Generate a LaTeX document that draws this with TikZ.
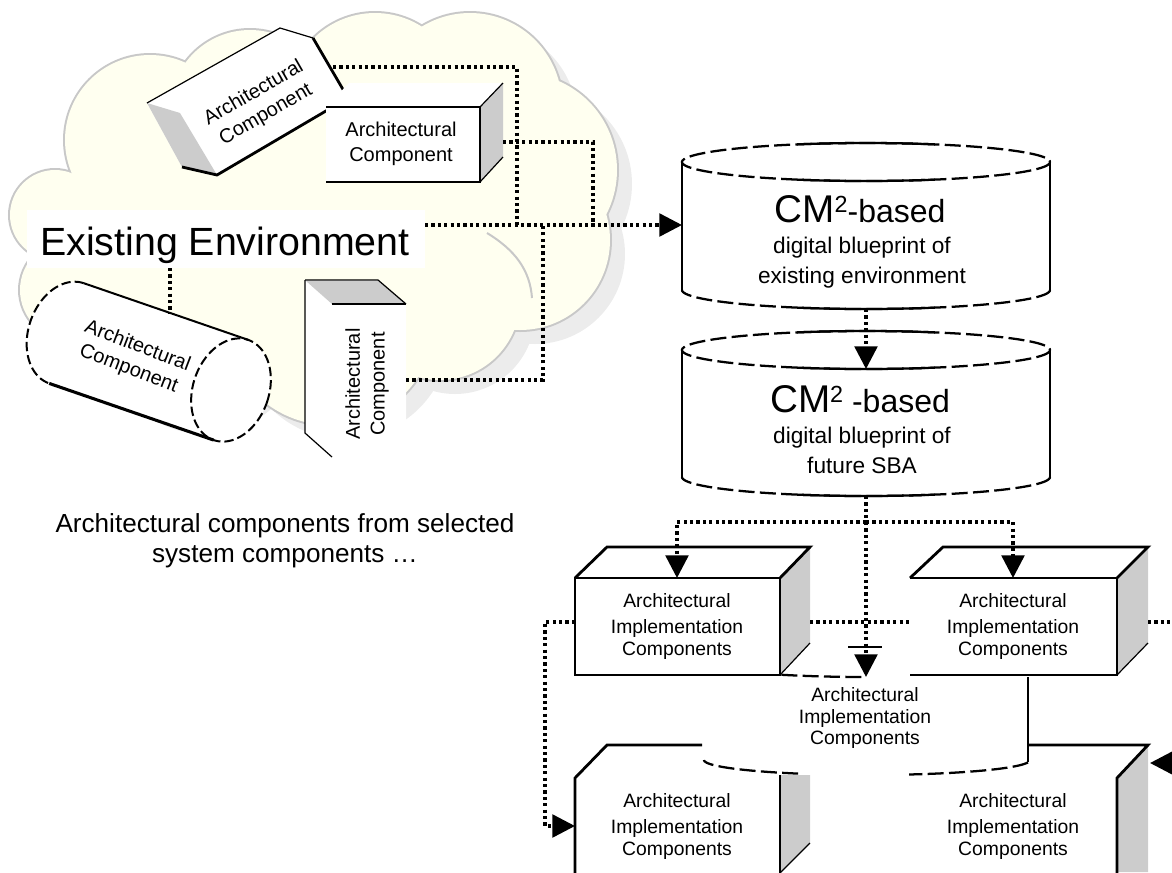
\documentclass[tikz,border=0pt]{standalone}
\usepackage{fontspec}
\setmainfont{Liberation Sans}
\usetikzlibrary{arrows.meta}

\definecolor{cloudfill}{RGB}{255,255,240}
\definecolor{cloudline}{RGB}{200,200,200}
\definecolor{cloudshade}{RGB}{236,236,236}
\definecolor{facegray}{RGB}{204,204,204}

\tikzset{
  conn/.style={line width=2.6pt, dash pattern=on 2.4pt off 2.4pt},
  tip/.style={-{Triangle[length=17pt,width=17pt]}},
  heavy/.style={line width=2.1pt},
  light/.style={line width=0.9pt},
  cyldash/.style={line width=1.7pt, dash pattern=on 12pt off 4pt},
  comptxt/.style={font=\fontsize{15}{18.5}\selectfont, align=center, inner sep=0pt},
  impltxt/.style={font=\fontsize{14.5}{16}\selectfont, align=center, inner sep=0pt},
  subtxt/.style={font=\fontsize{17}{20}\selectfont, anchor=base, inner sep=0pt},
  captxt/.style={font=\fontsize{19.6}{23}\selectfont, anchor=base, inner sep=0pt},
}

% drum-shaped store: #1 top centre y, #2 bottom centre y
\newcommand\drum[2]{%
  \fill[white] (682,#1) rectangle (1050,#2);
  \fill[white] plot[domain=0:360,samples=90] ({866+184*cos(\x)},{#1+19*sin(\x)}) -- cycle;
  \fill[white] plot[domain=0:180,samples=45] ({866+184*cos(\x)},{#2+19*sin(\x)}) -- cycle;
  \draw[cyldash] plot[domain=0:360,samples=120] ({866+184*cos(\x)},{#1+19*sin(\x)});
  \draw[cyldash] plot[domain=0:180,samples=60] ({866+184*cos(\x)},{#2+19*sin(\x)});
  \draw[line width=1.7pt] plot[domain=248:292,samples=20] ({866+184*cos(\x)},{#1+19*sin(\x)});
  \draw[line width=1.7pt] plot[domain=68:112,samples=20] ({866+184*cos(\x)},{#1+19*sin(\x)});
  \draw[line width=1.7pt] plot[domain=68:112,samples=20] ({866+184*cos(\x)},{#2+19*sin(\x)});
  \draw[line width=2pt] (682,#1) -- (682,#2) (1050,#1) -- (1050,#2);
}

\begin{document}
\begin{tikzpicture}[x=0.75pt,y=-0.75pt]
\useasboundingbox (0,0) rectangle (1172,872);
\clip (0,0) rectangle (1172,872);

% ---------------- cloud of the existing environment ----------------
\def\cloudlist{55/215/45,70/290/50,130/240/80,150/140/85,250/110/80,375/100/87,470/105/92,520/170/97,520/240/90,440/300/80,330/320/105,190/320/100,300/200/150}
\foreach \cx/\cy/\r in \cloudlist {\fill[cloudshade] ({\cx+15},{\cy+14}) circle[radius=\r];}
\foreach \cx/\cy/\r in \cloudlist {\draw[cloudline,line width=3pt] (\cx,\cy) circle[radius=\r];}
\foreach \cx/\cy/\r in \cloudlist {\fill[cloudfill] (\cx,\cy) circle[radius=\r];}
\draw[cloudline,line width=1.5pt] (487,233) .. controls (515,250) and (530,270) .. (532,298);

% label
\fill[white] (27,210) rectangle (425,268);
\node[anchor=base, font=\fontsize{29.5}{34}\selectfont, inner sep=0pt] (envlabel) at (225,255) {Existing Environment};

% tilted box
\fill[white] (147,103) -- (280,28) -- (313,38) -- (348,98) -- (217,175) -- (182,167) -- cycle;
\fill[facegray] (147,103) -- (180,113) -- (217,175) -- (182,167) -- cycle;
\draw[light] (147,103) -- (280,28) -- (313,38);
\draw[heavy] (182,167) -- (217,175) -- (348,98) -- (313,38);
\node[comptxt, rotate=30] (tiltlbl) at (260,104) {Architectural\\Component};

% upright box
\fill[white] (326,107) -- (349,83) -- (503,83) -- (480,107) -- cycle;
\fill[white] (326,107) rectangle (480,182);
\fill[facegray] (480,107) -- (503,83) -- (503,157) -- (480,182) -- cycle;
\draw[light] (480,107) -- (503,83) (480,182) -- (503,157);
\draw[heavy] (326,107) -- (480,107) -- (480,182) -- (326,182);
\node[comptxt] (frontlbl) at (401,144) {Architectural\\Component};

% lying cylinder
\fill[white] plot[domain=90:270,samples=40] ({66.5+35.93*cos(\x)+17.26*sin(\x)},{333.3+12.37*cos(\x)-50.11*sin(\x)})
  -- plot[domain=-90:90,samples=40] ({231+35.93*cos(\x)+17.26*sin(\x)},{390+12.37*cos(\x)-50.11*sin(\x)}) -- cycle;
\draw[line width=1.5pt, dash pattern=on 7pt off 3pt] plot[domain=90:270,samples=40] ({66.5+35.93*cos(\x)+17.26*sin(\x)},{333.3+12.37*cos(\x)-50.11*sin(\x)});
\draw[line width=1.5pt, dash pattern=on 7pt off 3pt] plot[domain=0:360,samples=80] ({231+35.93*cos(\x)+17.26*sin(\x)},{390+12.37*cos(\x)-50.11*sin(\x)});
\draw[line width=1.5pt] (83.8,283.2) -- (248.3,339.9);
\draw[line width=2.3pt] (49.2,383.4) -- (213.7,440.1);
\node[comptxt, rotate=-21] (cyllbl) at (133,358) {Architectural\\Component};

% standing box
\fill[white] (305,280) -- (378,280) -- (406,304) -- (406,457) -- (332,457) -- (305,433) -- cycle;
\fill[facegray] (306,281) -- (378,281) -- (405,303) -- (332,304) -- cycle;
\draw[light] (305,280) -- (378,280) -- (406,304);
\draw[light] (305,280) -- (305,433) -- (332,457);
\draw[heavy] (332,304) -- (406,304);
\node[comptxt, rotate=90] (standlbl) at (367,384) {Architectural\\Component};

% connection points
\coordinate (envS) at (170,268);
\coordinate (cylT) at (170,313);
\coordinate (tiltE) at (333,67);
\coordinate (tj) at (517,67);
\coordinate (tjb) at (517,225);
\coordinate (frontE) at (503,142);
\coordinate (fj) at (593,142);
\coordinate (fjb) at (593,225);
\coordinate (standE) at (406,380);
\coordinate (sj) at (543,380);
\coordinate (sjb) at (543,225);
\coordinate (envE) at (425,225);
\coordinate (cmaW) at (682,225);

\draw[conn] (envS) -- (cylT);
\draw[conn] (tiltE) -- (tj) -- (tjb);
\draw[conn] (frontE) -- (fj) -- (fjb);
\draw[conn] (standE) -- (sj) -- (sjb);
\draw[conn, tip] (envE) -- (cmaW);

% ---------------- blueprint stores ----------------
\drum{162}{290}
\node[anchor=base, inner sep=0pt] (cmatitle) at (860,222) {\fontsize{29}{30}\selectfont CM\raisebox{7pt}{\fontsize{17.5}{18}\selectfont 2}\fontsize{24}{26}\selectfont -based};
\node[subtxt] (cmasub1) at (862,253) {digital blueprint of};
\node[subtxt] (cmasub2) at (862,283) {existing environment};

\drum{350}{477}
\node[anchor=base, inner sep=0pt] (cmbtitle) at (860,412) {\fontsize{29}{30}\selectfont CM\raisebox{7pt}{\fontsize{17.5}{18}\selectfont 2}\fontsize{24}{26}\selectfont\ -based};
\node[subtxt] (cmbsub1) at (862,443) {digital blueprint of};
\node[subtxt] (cmbsub2) at (862,473) {future SBA};

\coordinate (cmaS) at (866,309);
\coordinate (cmbT) at (866,369);
\draw[conn, tip] (cmaS) -- (cmbT);

% ---------------- implementation components ----------------
% lower left box
\fill[white] (575,778) -- (607,745) -- (702,745) -- (780,778) -- (780,872) -- (575,872) -- cycle;
\fill[facegray] (780,775) -- (810,775) -- (810,843) -- (780,873) -- cycle;
\draw[light] (780,873) -- (810,843);
\draw[heavy] (702,745) -- (607,745) -- (575,778) -- (575,873);
\draw[heavy] (780,775) -- (780,873);
\node[impltxt] (impll) at (677,826) {Architectural\\[4pt]Implementation\\Components};

% lower right box
\fill[facegray] (1117,778) -- (1148,745) -- (1148,872) -- (1117,872) -- cycle;
\draw[heavy] (1028,745) -- (1148,745) -- (1117,778) -- (1117,873);
\node[impltxt] (implr) at (1013,826) {Architectural\\[4pt]Implementation\\Components};

% middle drum, mostly hidden
\draw[line width=1.2pt] (848,647) -- (882,647);
\draw[cyldash] plot[domain=92:122,samples=20] ({867+163*cos(\x)},{662+15*sin(\x)});
\draw[cyldash] plot[domain=115:180,samples=30] ({867+163*cos(\x)},{760+15*sin(\x)});
\draw[cyldash] plot[domain=9:75,samples=30] ({867+163*cos(\x)},{760+15*sin(\x)});
\draw[heavy] (1028,677) -- (1028,762);
\node[impltxt] (implm) at (865,718) {Architectural\\Implementation\\Components};

% upper left box
\fill[white] (575,578) -- (607,547) -- (810,547) -- (780,578) -- cycle;
\fill[white] (575,578) rectangle (780,675);
\fill[facegray] (780,578) -- (810,547) -- (810,643) -- (780,675) -- cycle;
\draw[light] (780,675) -- (810,643);
\draw[heavy] (575,578) -- (607,547) -- (810,547) -- (780,578);
\draw[heavy] (575,578) rectangle (780,675);
\node[impltxt] (implul) at (677,626) {Architectural\\[4pt]Implementation\\Components};

% upper right box
\fill[white] (910,578) -- (943,547) -- (1148,547) -- (1117,578) -- cycle;
\fill[facegray] (1117,578) -- (1148,547) -- (1148,643) -- (1117,675) -- cycle;
\draw[light] (1117,675) -- (1148,643);
\draw[heavy] (910,578) -- (943,547) -- (1148,547) -- (1117,578);
\draw[heavy] (910,578) -- (1117,578) -- (1117,675) -- (910,675);
\node[impltxt] (implur) at (1013,626) {Architectural\\[4pt]Implementation\\Components};

% connections below the stores
\coordinate (cmbS) at (866,496);
\coordinate (bj) at (866,522);
\coordinate (ulT) at (677,578);
\coordinate (urT) at (1013,578);
\coordinate (mT) at (866,677);
\coordinate (ulW) at (575,622);
\coordinate (lj) at (545,622);
\coordinate (llW) at (575,826);
\coordinate (ulE) at (810,622);
\coordinate (urW) at (910,622);
\coordinate (urE) at (1148,622);
\coordinate (rj) at (1195,622);
\coordinate (lrE) at (1150,763);

\draw[conn] (cmbS) -- (bj);
\draw[conn, tip] (bj) -| (ulT);
\draw[conn, tip] (bj) -| (urT);
\draw[conn, tip] (bj) -- (mT);
\draw[conn, tip] (ulW) -- (lj) |- (llW);
\draw[conn] (ulE) -- (urW);
\draw[conn, tip] (urE) -- (rj) |- (lrE);

% caption
\node[captxt] (caption1) at (285,532) {Architectural components from selected};
\node[captxt] (caption2) at (285,562) {system components \dots};

\end{tikzpicture}
\end{document}
